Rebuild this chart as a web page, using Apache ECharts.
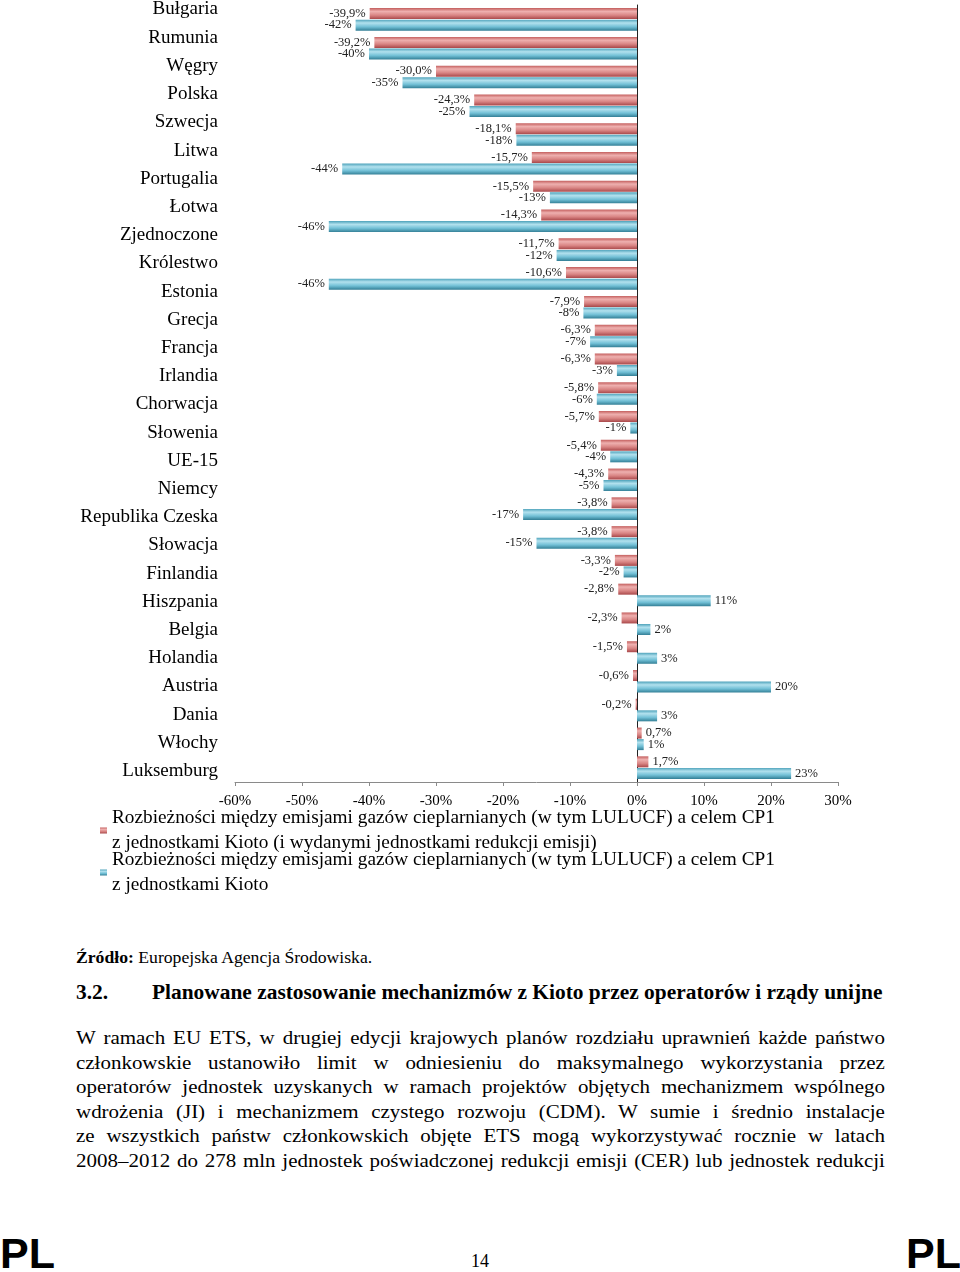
<!DOCTYPE html>
<html>
<head>
<meta charset="utf-8">
<script src="https://cdn.jsdelivr.net/npm/echarts@6/dist/echarts.min.js"></script>
<style>
  html, body { margin: 0; padding: 0; background: #fff; }
  body { width: 960px; height: 1272px; position: relative; overflow: hidden; font-family: 'Liberation Serif', 'Times New Roman', serif; color: #000; }
  #chart { position: absolute; left: 0; top: 0; width: 960px; height: 900px; }
  .abs { position: absolute; white-space: nowrap; transform-origin: 0 0; }
  .sx { transform: scaleX(1.07); }
  .src { left: 76px; top: 948px; font-size: 16.5px; }
  .head { left: 76px; top: 981px; font-size: 20px; font-weight: bold; width: 760px; }
  .head .t { position: absolute; left: 71px; top: 0; }
  .para { left: 76px; top: 1026px; width: 756px; font-size: 19.6px; line-height: 24.5px; }
  .para div { text-align: justify; text-align-last: justify; white-space: nowrap; }
  .pl { font-family: 'Liberation Sans', Arial, sans-serif; font-weight: bold; font-size: 43px; top: 1229px; }
  .pg { left: 471px; top: 1251px; font-size: 18px; }
</style>
</head>
<body>
<div id="chart"></div>
<div class="abs sx src"><b>Źródło:</b> Europejska Agencja Środowiska.</div>
<div class="abs sx head"><span>3.2.</span><span class="t">Planowane zastosowanie mechanizmów z Kioto przez operatorów i rządy unijne</span></div>
<div class="abs sx para">
  <div>W ramach EU ETS, w drugiej edycji krajowych planów rozdziału uprawnień każde państwo</div>
  <div>członkowskie ustanowiło limit w odniesieniu do maksymalnego wykorzystania przez</div>
  <div>operatorów jednostek uzyskanych w ramach projektów objętych mechanizmem wspólnego</div>
  <div>wdrożenia (JI) i mechanizmem czystego rozwoju (CDM). W sumie i średnio instalacje</div>
  <div>ze wszystkich państw członkowskich objęte ETS mogą wykorzystywać rocznie w latach</div>
  <div>2008–2012 do 278 mln jednostek poświadczonej redukcji emisji (CER) lub jednostek redukcji</div>
</div>
<div class="abs pl" style="left:0px;">PL</div>
<div class="abs pl" style="left:906px;">PL</div>
<div class="abs pg">14</div>
<script>
// ---- data ----
const categories = ['Bułgaria', 'Rumunia', 'Węgry', 'Polska', 'Szwecja', 'Litwa', 'Portugalia', 'Łotwa',
  'Zjednoczone\nKrólestwo', 'Estonia', 'Grecja', 'Francja', 'Irlandia', 'Chorwacja', 'Słowenia', 'UE-15',
  'Niemcy', 'Republika Czeska', 'Słowacja', 'Finlandia', 'Hiszpania', 'Belgia', 'Holandia', 'Austria',
  'Dania', 'Włochy', 'Luksemburg'];
const seriesNames = [
  'Rozbieżności między emisjami gazów cieplarnianych (w tym LULUCF) a celem CP1 z jednostkami Kioto (i wydanymi jednostkami redukcji emisji)',
  'Rozbieżności między emisjami gazów cieplarnianych (w tym LULUCF) a celem CP1 z jednostkami Kioto'
];
const redValues = [-39.9, -39.2, -30.0, -24.3, -18.1, -15.7, -15.5, -14.3, -11.7, -10.6, -7.9, -6.3, -6.3,
  -5.8, -5.7, -5.4, -4.3, -3.8, -3.8, -3.3, -2.8, -2.3, -1.5, -0.6, -0.2, 0.7, 1.7];
const blueValues = [-42, -40, -35, -25, -18, -44, -13, -46, -12, -46, -8, -7, -3,
  -6, -1, -4, -5, -17, -15, -2, 11, 2, 3, 20, 3, 1, 23];
const xTicks = { min: -60, max: 30, interval: 10 };

// label rows: each text line of the category names (the original lays them out line by line)
const labelRows = categories.flatMap(c => c.split('\n'));

// ---- chart ----
const serif = "'Liberation Serif', 'Times New Roman', serif";
const chart = echarts.init(document.getElementById('chart'));

function items(vals) {
  return vals.map(v => ({ value: v, label: { position: v < 0 ? 'left' : 'right' } }));
}
const redGrad = new echarts.graphic.LinearGradient(0, 0, 0, 1, [
  { offset: 0, color: '#c45f5e' }, { offset: 0.3, color: '#eeb0af' },
  { offset: 0.65, color: '#d98584' }, { offset: 1, color: '#a9484a' }
]);
const blueGrad = new echarts.graphic.LinearGradient(0, 0, 0, 1, [
  { offset: 0, color: '#4fa3bb' }, { offset: 0.3, color: '#b2e1ee' },
  { offset: 0.65, color: '#72c0d6' }, { offset: 1, color: '#337f96' }
]);
const legendText = { fontFamily: serif, fontSize: 19.3, lineHeight: 25, color: '#000', padding: [11, 0, 0, 0] };

chart.setOption({
  animation: false,
  backgroundColor: '#fff',
  textStyle: { fontFamily: serif },
  grid: [
    { left: 235, right: 122, top: 5, bottom: 118 },
    { left: 222, width: 1, top: 8, bottom: 129 }
  ],
  legend: [
    {
      data: [seriesNames[0]], left: 95, top: 795, orient: 'vertical',
      itemWidth: 7, itemHeight: 6, icon: 'rect', itemGap: 0,
      formatter: n => n.replace(' z jednostkami', '\nz jednostkami'),
      textStyle: legendText
    },
    {
      data: [seriesNames[1]], left: 95, top: 837, orient: 'vertical',
      itemWidth: 7, itemHeight: 6, icon: 'rect', itemGap: 0,
      formatter: n => n.replace(' z jednostkami', '\nz jednostkami'),
      textStyle: legendText
    }
  ],
  xAxis: [
    {
      gridIndex: 0, type: 'value', min: xTicks.min, max: xTicks.max, interval: xTicks.interval,
      axisLine: { show: true, lineStyle: { color: '#8a8a8a' } },
      axisTick: { show: true, length: 4, lineStyle: { color: '#8a8a8a' } },
      splitLine: { show: false },
      axisLabel: { formatter: v => v + '%', fontFamily: serif, fontSize: 15, color: '#000', margin: 12 }
    },
    { gridIndex: 1, type: 'value', show: false, min: 0, max: 1 }
  ],
  yAxis: [
    {
      gridIndex: 0, type: 'category', data: categories, inverse: true,
      axisLine: { show: true, onZero: true, lineStyle: { color: '#222', width: 1 } },
      axisTick: { show: false }, axisLabel: { show: false }, splitLine: { show: false }
    },
    {
      gridIndex: 1, type: 'category', data: labelRows, inverse: true, boundaryGap: false,
      axisLine: { show: false }, axisTick: { show: false },
      axisLabel: { fontFamily: serif, fontSize: 19, color: '#000', margin: 4, interval: 0 }
    }
  ],
  series: [
    {
      name: seriesNames[0], type: 'bar', xAxisIndex: 0, yAxisIndex: 0,
      data: items(redValues), barWidth: 11, barGap: '5%',
      itemStyle: { color: redGrad },
      label: {
        show: true, distance: 4, fontFamily: serif, fontSize: 12.5, color: '#222',
        formatter: p => p.value.toFixed(1).replace('.', ',') + '%'
      }
    },
    {
      name: seriesNames[1], type: 'bar', xAxisIndex: 0, yAxisIndex: 0,
      data: items(blueValues), barWidth: 11, barGap: '5%',
      itemStyle: { color: blueGrad },
      label: {
        show: true, distance: 4, fontFamily: serif, fontSize: 12.5, color: '#222',
        formatter: p => Math.round(p.value) + '%'
      }
    }
  ]
});
</script>
</body>
</html>
